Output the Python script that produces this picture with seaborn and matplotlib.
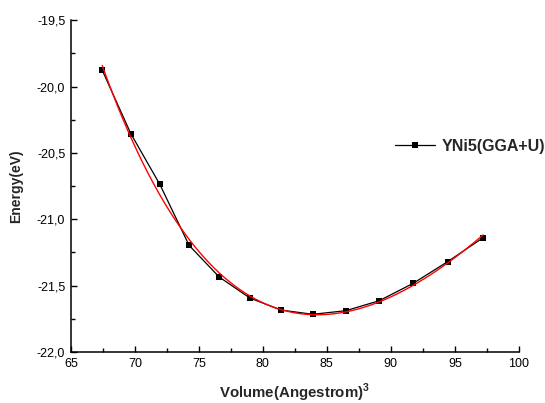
import numpy as np
import pandas as pd
import seaborn as sns
import matplotlib
matplotlib.use("Agg")
import matplotlib.pyplot as plt
from matplotlib.ticker import MultipleLocator, FuncFormatter

# Total energy versus cell volume for YNi5 (GGA+U)
volume = [67.45, 69.69, 71.95, 74.24, 76.59, 78.98, 81.40, 83.90, 86.48, 89.09, 91.74, 94.43, 97.21]
energy = [-19.877, -20.356, -20.737, -21.197, -21.435, -21.593, -21.684, -21.716,
          -21.689, -21.614, -21.483, -21.320, -21.139]
series_label = "YNi5(GGA+U)"

df = pd.DataFrame({"Volume": volume, "Energy": energy})

# Birch-Murnaghan style fit: E as a cubic polynomial in V^(-2/3)
coef = np.polyfit(np.power(df["Volume"], -2.0 / 3.0), df["Energy"], 3)
v_fit = np.linspace(min(volume), max(volume), 300)
fit_df = pd.DataFrame({"Volume": v_fit,
                       "Energy": np.polyval(coef, np.power(v_fit, -2.0 / 3.0))})

sns.set_theme(style="white")
plt.rcParams["font.family"] = ["Liberation Sans", "DejaVu Sans"]

fig = plt.figure(figsize=(5.45, 4.03), dpi=100)
ax = fig.add_axes([0.130, 0.1266, 0.822, 0.8234])

sns.lineplot(data=df, x="Volume", y="Energy", ax=ax, color="black", lw=0.9,
             sort=False, zorder=2, label=series_label, marker="s", markersize=4.5,
             markeredgewidth=0, markerfacecolor="black")
sns.lineplot(data=fit_df, x="Volume", y="Energy", ax=ax, color="red", lw=1.0,
             zorder=3, legend=False)

ax.set_xlim(65, 100)
ax.set_ylim(-22.0, -19.5)
ax.xaxis.set_major_locator(MultipleLocator(5))
ax.xaxis.set_minor_locator(MultipleLocator(2.5))
ax.yaxis.set_major_locator(MultipleLocator(0.5))
ax.yaxis.set_minor_locator(MultipleLocator(0.25))
ax.yaxis.set_major_formatter(FuncFormatter(lambda v, p: f"{v:.1f}".replace(".", ",")))
ax.xaxis.set_major_formatter(FuncFormatter(lambda v, p: f"{v:.0f}"))

for side in ("top", "right"):
    ax.spines[side].set_visible(False)
for side in ("left", "bottom"):
    ax.spines[side].set_color("black")
    ax.spines[side].set_linewidth(1.1)

ax.tick_params(which="both", direction="in", color="black", width=1.0,
               labelsize=9, labelcolor="black", left=True, bottom=True)
ax.tick_params(which="major", length=4.5, pad=4)
ax.tick_params(which="minor", length=3)

ax.set_xlabel(r"Volume(Angestrom)$^{\mathregular{3}}$", fontsize=10.8,
              fontweight="bold", labelpad=9)
ax.set_ylabel("Energy(eV)", fontsize=10, fontweight="bold", labelpad=10)

leg = ax.legend(loc="center left", bbox_to_anchor=(0.723, 0.62), frameon=False,
                prop={"weight": "bold", "size": 11.5}, handlelength=2.5,
                handletextpad=0.45, borderpad=0, borderaxespad=0)

fig.savefig("out.png", dpi=100)
